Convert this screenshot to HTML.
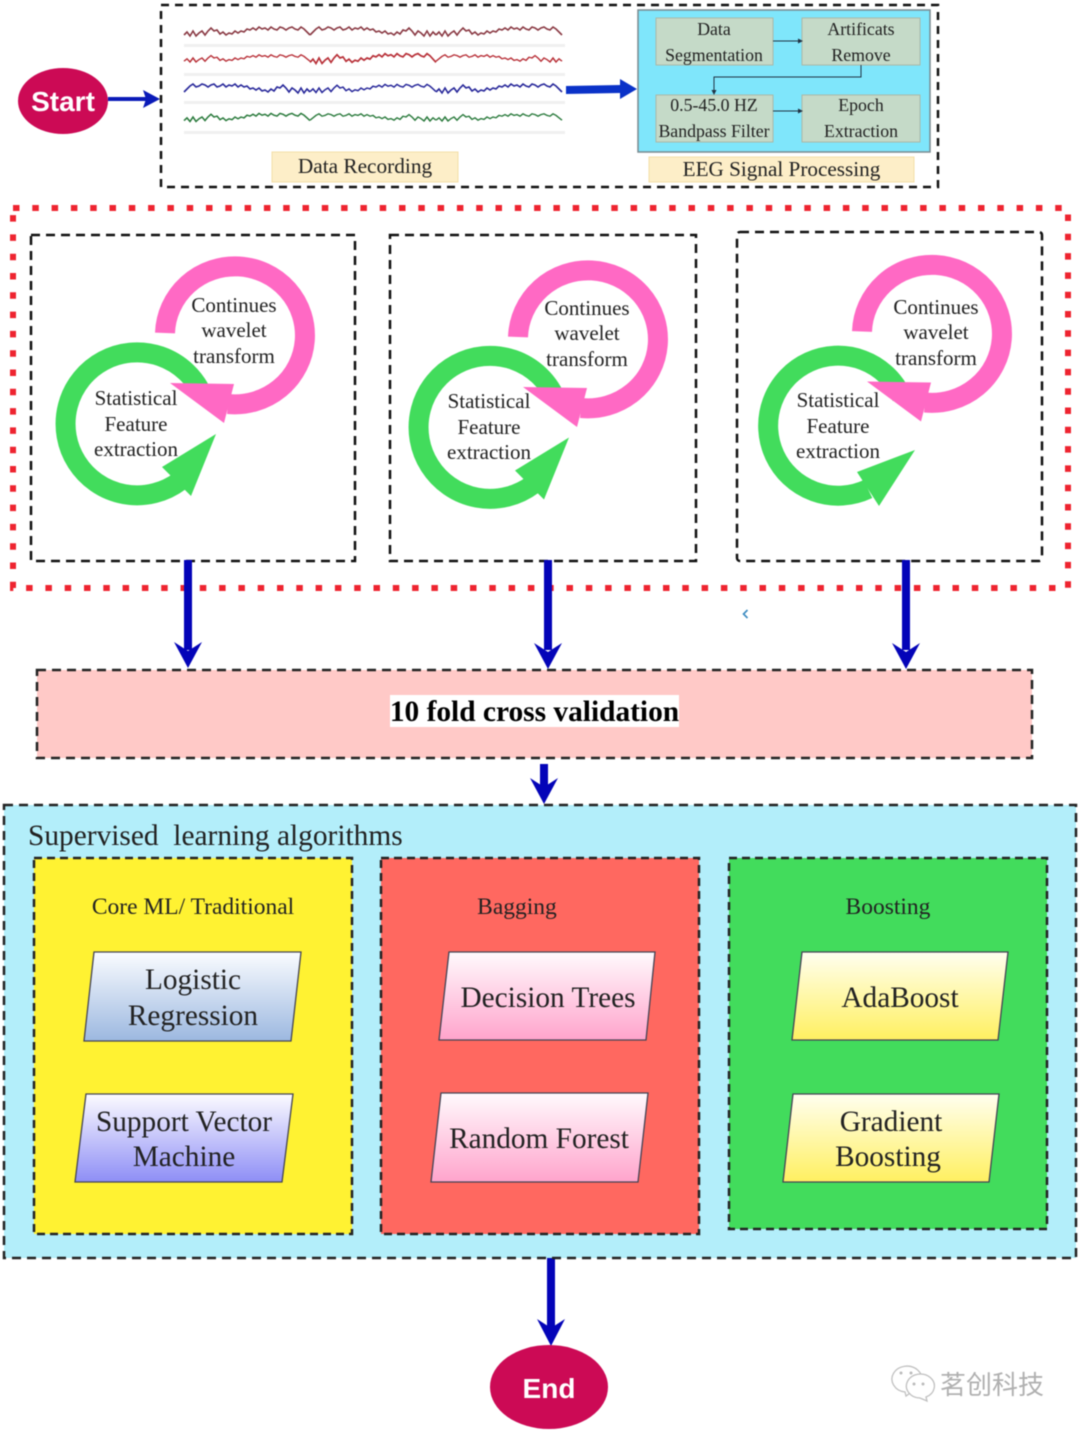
<!DOCTYPE html>
<html><head><meta charset="utf-8"><style>
html,body{margin:0;padding:0;background:#fff}
svg{display:block;filter:blur(0.45px)}
text{font-family:"Liberation Serif","Noto Serif CJK SC",serif;fill:#222;text-anchor:middle}
</style></head><body>
<svg xmlns="http://www.w3.org/2000/svg" width="1080" height="1433" viewBox="0 0 1080 1433">
<defs>
<linearGradient id="gb" x1="0" y1="0" x2="0" y2="1"><stop offset="0" stop-color="#fafcff"/><stop offset="1" stop-color="#9cb8e0"/></linearGradient>
<linearGradient id="gv" x1="0" y1="0" x2="0" y2="1"><stop offset="0" stop-color="#fcfbff"/><stop offset="1" stop-color="#8e8ef6"/></linearGradient>
<linearGradient id="gp" x1="0" y1="0" x2="0" y2="1"><stop offset="0" stop-color="#fffafd"/><stop offset="1" stop-color="#ffa4cc"/></linearGradient>
<linearGradient id="gy" x1="0" y1="0" x2="0" y2="1"><stop offset="0" stop-color="#fffff0"/><stop offset="1" stop-color="#fff060"/></linearGradient>
<g id="pink">
<path d="M165 333 A70 69 0 1 1 228 404" fill="none" stroke="#ff69c4" stroke-width="20"/>
<polygon points="170,383 234,384 224,423" fill="#ff69c4"/>
</g>
<g id="looptext" font-size="21">
<text x="234" y="312">Continues</text><text x="234" y="337">wavelet</text><text x="234" y="363">transform</text>
<text x="136" y="405">Statistical</text><text x="136" y="431">Feature</text><text x="136" y="456">extraction</text>
</g>
<path id="w" d="M0 4l3-3 3 4 3-5 3 5 3-3 3-2 3 4 3-4 3-3 3 3 3-1 3 4 3-2 3 3 3-2 3 1 3-3 3 2 3-2 3 1 3-3 3 1 3-2 3 2 3-3 3 2 3-1 3 2 3-3 3 2 3 1 3-3 3 1 3 2 3-2 3-1 3 2 3 1 3-3 3 2 3 3 3 3"/>
</defs>

<!-- top section -->
<ellipse cx="63" cy="101" rx="45" ry="33" fill="#cc0a55"/>
<text x="63" y="111" font-size="28" font-weight="bold" style="font-family:'Liberation Sans',sans-serif;fill:#fff">Start</text>
<line x1="108" y1="99" x2="148" y2="99" stroke="#0a1ab8" stroke-width="4"/>
<polygon points="160,99 143,90 146,99 143,108" fill="#0a1ab8"/>
<rect x="161" y="5" width="777" height="182" fill="none" stroke="#111" stroke-width="2.5" stroke-dasharray="8 6"/>

<g fill="#f0f0f0"><rect x="184" y="44" width="381" height="3"/><rect x="184" y="73" width="381" height="3"/><rect x="184" y="101" width="381" height="3"/><rect x="184" y="131" width="381" height="3"/></g>
<g fill="none" stroke-width="1.6">
<g stroke="#8a3a44"><use href="#w" transform="translate(184,31)"/><use href="#w" transform="translate(436,31) scale(-1,1)"/><use href="#w" transform="translate(436,31)"/></g>
<g stroke="#b83038"><use href="#w" transform="translate(184,58) scale(1,.8)"/><use href="#w" transform="translate(310,58) scale(1,1.1)"/><use href="#w" transform="translate(562,58) scale(-1,.8)"/></g>
<g stroke="#28289a"><use href="#w" transform="translate(310,88) scale(-1,1)"/><use href="#w" transform="translate(310,88) scale(1,.9)"/><use href="#w" transform="translate(436,88)"/></g>
<g stroke="#2a7a3c"><use href="#w" transform="translate(184,117) scale(1,.9)"/><use href="#w" transform="translate(436,117) scale(-1,.8)"/><use href="#w" transform="translate(436,117) scale(1,.8)"/></g>
</g>
<polygon points="566,86 620,85 620,79 637,89 620,99 620,93 566,94" fill="#0a32c8"/>

<rect x="638" y="10" width="292" height="142" fill="#7fe6fb" stroke="#7a8a90" stroke-width="1.5"/>
<g fill="#c5dac8" stroke="#aab8a8"><rect x="656" y="18" width="117" height="47"/><rect x="802" y="18" width="118" height="47"/><rect x="656" y="95" width="117" height="47"/><rect x="802" y="95" width="118" height="47"/></g>
<g font-size="17.8">
<text x="714" y="35">Data</text><text x="714" y="61">Segmentation</text>
<text x="861" y="35">Artificats</text><text x="861" y="61">Remove</text>
<text x="714" y="111">0.5-45.0 HZ</text><text x="714" y="137">Bandpass Filter</text>
<text x="861" y="111">Epoch</text><text x="861" y="137">Extraction</text>
</g>
<g stroke="#234" stroke-width="1" fill="none"><path d="M773 41H800"/><path d="M861 65V77H714V92"/><path d="M773 111H800"/></g>
<g fill="#234"><polygon points="803,41 798,38.500 798,43.500"/><polygon points="714,95 711.500,90 716.500,90"/><polygon points="803,111 798,108.500 798,113.500"/></g>
<rect x="272" y="152" width="186" height="30" fill="#fdeec8" stroke="#f3dfa8"/>
<text x="365" y="173" font-size="21.3">Data Recording</text>
<rect x="649" y="157" width="265" height="25" fill="#fdeec8" stroke="#f3dfa8"/>
<text x="781.500" y="176" font-size="21.2">EEG Signal Processing</text>

<!-- feature extraction -->
<rect x="13" y="208" width="1055" height="380" fill="none" stroke="#ee2430" stroke-width="6" stroke-dasharray="6.500 12.800"/>
<g fill="none" stroke="#111" stroke-width="2.500" stroke-dasharray="9 6">
<rect x="31" y="235" width="324" height="326"/>
<rect x="390" y="235" width="306" height="326"/>
<rect x="737" y="232" width="305" height="329" rx="3"/>
</g>

<!-- loop 1 -->
<path d="M202.500 395 A71.500 71.500 0 1 0 180 481" fill="none" stroke="#42dc5c" stroke-width="20"/>
<polygon points="162,467 216,434 191,496" fill="#42dc5c"/>
<use href="#pink"/><use href="#looptext"/>
<!-- loop 2 -->
<path d="M555.500 398.500 A71.500 71.500 0 1 0 533 484.500" fill="none" stroke="#42dc5c" stroke-width="20"/>
<polygon points="515,470.500 569,437.500 544,499.500" fill="#42dc5c"/>
<use href="#pink" x="353" y="4"/><use href="#looptext" x="353" y="3"/>
<!-- loop 3 -->
<path d="M902 397 A70 70 0 1 0 868 489" fill="none" stroke="#42dc5c" stroke-width="20"/>
<polygon points="857,472 915,450 879,506" fill="#42dc5c"/>
<use href="#pink" x="697" y="-1.500"/><use href="#looptext" x="702" y="2"/>

<g fill="#0404b8">
<rect x="184" y="560" width="8" height="90"/><polygon points="188,668 174,642 188,651 202,642"/>
<rect x="544" y="560" width="8" height="90"/><polygon points="548,669 534,643 548,652 562,643"/>
<rect x="902" y="560" width="8" height="90"/><polygon points="906,669 892,643 906,652 920,643"/>
<rect x="540" y="764" width="8" height="24"/><polygon points="544,804 530,778 544,787 558,778"/>
<rect x="547" y="1258" width="8" height="70"/><polygon points="551,1346 537,1319 551,1328 565,1319"/>
</g>
<path d="M747.500 610 L743.500 614 L747.500 618" fill="none" stroke="#3a8ac0" stroke-width="1.600"/>

<!-- cross validation -->
<rect x="37" y="670" width="995" height="88" fill="#ffc9c7" stroke="#222" stroke-width="2.500" stroke-dasharray="9 6"/>
<rect x="390" y="695" width="289" height="32" fill="#fff"/>
<text x="534.500" y="721" font-size="29.4" font-weight="bold" style="fill:#000">10 fold cross validation</text>

<!-- supervised -->
<rect x="4" y="805" width="1072" height="453" fill="#b3eefa" stroke="#222" stroke-width="2.500" stroke-dasharray="9 6"/>
<text x="28" y="845" font-size="29.4" style="text-anchor:start" xml:space="preserve">Supervised  learning algorithms</text>
<g stroke="#222" stroke-width="2.500" stroke-dasharray="8 5">
<rect x="34" y="858" width="318" height="376" fill="#fff232"/>
<rect x="381" y="858" width="318" height="376" fill="#ff6860"/>
<rect x="729" y="858" width="318" height="371" fill="#42dc5c"/>
</g>
<g font-size="23.500">
<text x="193" y="914">Core ML/ Traditional</text>
<text x="517" y="914">Bagging</text>
<text x="888" y="914">Boosting</text>
</g>
<g stroke="#445" stroke-width="1.300">
<polygon points="94,952 301,952 291,1041 84,1041" fill="url(#gb)"/>
<polygon points="86,1094 293,1094 282,1182 75,1182" fill="url(#gv)"/>
<polygon points="449,952 655,952 646,1040 439,1040" fill="url(#gp)"/>
<polygon points="441,1093 648,1093 638,1182 431,1182" fill="url(#gp)"/>
<polygon points="802,952 1008,952 998,1040 792,1040" fill="url(#gy)"/>
<polygon points="793,1094 999,1094 989,1182 783,1182" fill="url(#gy)"/>
</g>
<g font-size="29.300">
<text x="193" y="989">Logistic</text><text x="193" y="1025">Regression</text>
<text x="184" y="1131">Support Vector</text><text x="184" y="1166">Machine</text>
<text x="548" y="1007">Decision Trees</text>
<text x="539" y="1148">Random Forest</text>
<text x="900" y="1007">AdaBoost</text>
<text x="891" y="1131">Gradient</text><text x="888" y="1166">Boosting</text>
</g>

<!-- end -->
<ellipse cx="549" cy="1387" rx="59" ry="42" fill="#cc0a55"/>
<text x="549" y="1398" font-size="28" font-weight="bold" style="font-family:'Liberation Sans',sans-serif;fill:#fff">End</text>

<!-- watermark -->
<g fill="#fff" stroke="#c0c0c0" stroke-width="1.300">
<path d="M905 1392 a15 13 0 1 1 8 -1 l-7 5z"/>
<path d="M926 1397 a14 12 0 1 0 -6 1 l7 3z"/>
</g>
<g fill="#bbb"><circle cx="901" cy="1373" r="1.500"/><circle cx="911" cy="1373" r="1.500"/><circle cx="914" cy="1384" r="1.500"/><circle cx="923" cy="1384" r="1.500"/></g>
<text x="992" y="1394" font-size="26" style="font-family:'Noto Sans CJK SC',sans-serif;fill:#b0b0b0">茗创科技</text>
</svg>
</body></html>
